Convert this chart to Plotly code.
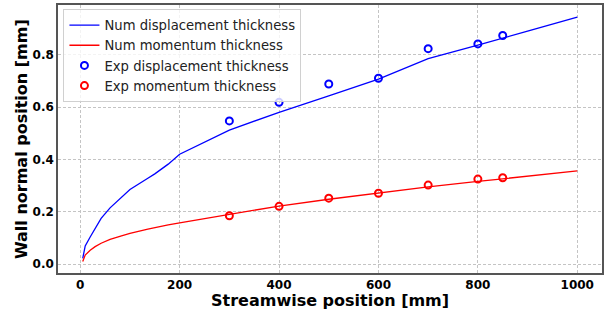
import plotly.graph_objects as go

# Numerical curves
num_x = [5, 10, 20, 30, 42, 60, 83, 100, 136, 150, 177, 200, 300, 400, 500, 600, 700, 800, 900, 1000]
num_disp = [0.022, 0.07, 0.104, 0.135, 0.175, 0.215, 0.257, 0.285, 0.328, 0.345, 0.382, 0.42, 0.512, 0.58, 0.643, 0.707, 0.785, 0.836, 0.89, 0.943]
num_mom = [0.01, 0.035, 0.053, 0.067, 0.08, 0.095, 0.108, 0.118, 0.134, 0.14, 0.15, 0.158, 0.19, 0.222, 0.248, 0.272, 0.295, 0.316, 0.336, 0.356]

# Experimental points
exp_x = [300, 400, 500, 600, 700, 800, 850]
exp_disp = [0.547, 0.618, 0.688, 0.71, 0.823, 0.841, 0.873]
exp_mom = [0.185, 0.221, 0.252, 0.271, 0.302, 0.325, 0.33]

x_ticks = [0, 200, 400, 600, 800, 1000]
y_ticks = [0.0, 0.2, 0.4, 0.6, 0.8]
y_tick_labels = ["0.0", "0.2", "0.4", "0.6", "0.8"]

fig = go.Figure()
fig.add_trace(go.Scatter(x=num_x, y=num_disp, mode="lines", name="Num displacement thickness",
                         line=dict(color="blue", width=1.3)))
fig.add_trace(go.Scatter(x=num_x, y=num_mom, mode="lines", name="Num momentum thickness",
                         line=dict(color="red", width=1.3)))
fig.add_trace(go.Scatter(x=exp_x, y=exp_disp, mode="markers", name="Exp displacement thickness",
                         marker=dict(symbol="circle-open", color="blue", size=7, line=dict(width=2, color="blue"))))
fig.add_trace(go.Scatter(x=exp_x, y=exp_mom, mode="markers", name="Exp momentum thickness",
                         marker=dict(symbol="circle-open", color="red", size=7, line=dict(width=2, color="red"))))

axis_common = dict(
    showline=True, mirror=True, linecolor="#555555", linewidth=1.5,
    showgrid=True, gridcolor="#c4c4c4", griddash="3px,2px", gridwidth=1,
    zeroline=False, ticks="", automargin=False,
    tickfont=dict(family="DejaVu Sans", size=12, color="black", weight="bold"),
)

fig.update_layout(
    width=608, height=311,
    margin=dict(l=58, r=6, t=5, b=38),
    paper_bgcolor="white", plot_bgcolor="white",
    font=dict(family="DejaVu Sans", color="black"),
    showlegend=True,
    legend=dict(x=0.01, y=0.985, xanchor="left", yanchor="top",
                bgcolor="rgba(255,255,255,0.8)", bordercolor="#d0d0d0", borderwidth=1,
                font=dict(family="DejaVu Sans", size=13.2, color="#222222"),
                tracegroupgap=0, itemwidth=30),
    xaxis=dict(range=[-44.75, 1049.75], tickvals=x_ticks, **axis_common),
    yaxis=dict(range=[-0.0336, 0.9896], tickvals=y_ticks, ticktext=y_tick_labels, **axis_common),
    annotations=[
        dict(text="<b>Streamwise position [mm]</b>", xref="paper", yref="paper", x=0.5, y=-0.0, yshift=-27,
             xanchor="center", yanchor="middle", showarrow=False,
             font=dict(family="DejaVu Sans", size=16, color="black")),
        dict(text="<b>Wall normal position [mm]</b>", xref="paper", yref="paper", x=0, xshift=-37, y=0.5,
             xanchor="center", yanchor="middle", textangle=-90, showarrow=False,
             font=dict(family="DejaVu Sans", size=16, color="black")),
    ],
)

fig.write_html("out.html", config={"displayModeBar": False},
               post_script="document.body.style.margin='0';document.body.style.overflow='hidden';")
